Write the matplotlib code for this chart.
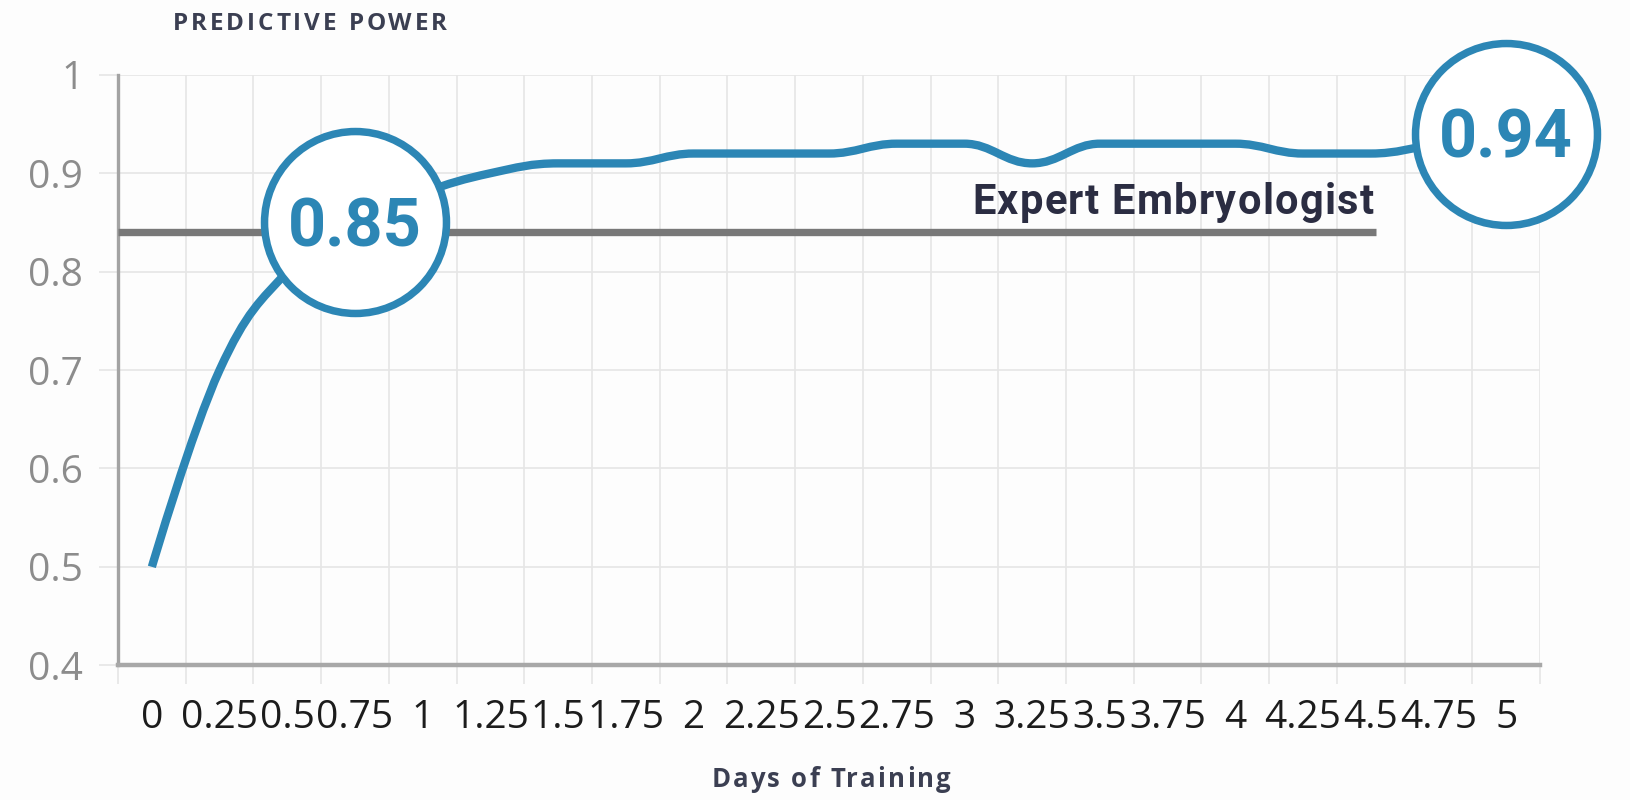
import numpy as np
import matplotlib
matplotlib.use("Agg")
import matplotlib.pyplot as plt
from matplotlib.path import Path
from matplotlib.patches import PathPatch

# ---- data -------------------------------------------------------------
days = [0, 0.25, 0.5, 0.75, 1, 1.25, 1.5, 1.75, 2, 2.25, 2.5,
        2.75, 3, 3.25, 3.5, 3.75, 4, 4.25, 4.5, 4.75, 5]
day_labels = ["0", "0.25", "0.5", "0.75", "1", "1.25", "1.5", "1.75", "2",
              "2.25", "2.5", "2.75", "3", "3.25", "3.5", "3.75", "4",
              "4.25", "4.5", "4.75", "5"]
predictive_power = [0.50, 0.70, 0.80, 0.85, 0.88, 0.90, 0.91, 0.91, 0.92,
                    0.92, 0.92, 0.93, 0.93, 0.91, 0.93, 0.93, 0.93, 0.92,
                    0.92, 0.93, 0.94]
expert_level = 0.84
expert_label = "Expert Embryologist"
callout_index = [3, 20]          # points highlighted with a ringed value
y_ticks = [0.4, 0.5, 0.6, 0.7, 0.8, 0.9, 1.0]
y_tick_labels = ["0.4", "0.5", "0.6", "0.7", "0.8", "0.9", "1"]
y_title = "PREDICTIVE POWER"
x_title = "Days of Training"

BLUE = "#2c86b5"
NAVY = "#2b2d42"
SLATE = "#3b3f52"
GRID = "#e6e6e6"
W_PX, H_PX = 1630, 800


def spline_path(xs, ys, smoothing=1.5):
    """Smooth Bezier path through every point (Highcharts-style spline)."""
    n = len(xs)
    denom = smoothing + 1
    left = [(xs[i], ys[i]) for i in range(n)]
    right = [(xs[i], ys[i]) for i in range(n)]
    for i in range(1, n - 1):
        px, py = xs[i], ys[i]
        lx, ly = xs[i - 1], ys[i - 1]
        nx, ny = xs[i + 1], ys[i + 1]
        lcx = (smoothing * px + lx) / denom
        lcy = (smoothing * py + ly) / denom
        rcx = (smoothing * px + nx) / denom
        rcy = (smoothing * py + ny) / denom
        corr = (rcy - lcy) * (rcx - px) / (rcx - lcx) + py - rcy
        lcy += corr
        rcy += corr
        if lcy > ly and lcy > py:
            lcy = max(ly, py)
            rcy = 2 * py - lcy
        elif lcy < ly and lcy < py:
            lcy = min(ly, py)
            rcy = 2 * py - lcy
        if rcy > ny and rcy > py:
            rcy = max(ny, py)
            lcy = 2 * py - rcy
        elif rcy < ny and rcy < py:
            rcy = min(ny, py)
            lcy = 2 * py - rcy
        left[i] = (lcx, lcy)
        right[i] = (rcx, rcy)
    verts = [(xs[0], ys[0])]
    codes = [Path.MOVETO]
    for i in range(1, n):
        verts += [right[i - 1], left[i], (xs[i], ys[i])]
        codes += [Path.CURVE4] * 3
    return Path(verts, codes)


def spaced_text(fig, x_px, y_px, s, span_px, ha="left", **kw):
    """Draw text letter-spaced so it spans span_px; x/y in pixels from top-left, y is baseline."""
    renderer = fig.canvas.get_renderer()

    def width(t):
        tmp = fig.text(0, 0, t, **kw)
        w = tmp.get_window_extent(renderer).width
        tmp.remove()
        return w

    spacing = max(0.0, (span_px - width(s)) / (len(s) - 1))
    total = width(s) + (len(s) - 1) * spacing
    if ha == "center":
        x0 = x_px - total / 2
    elif ha == "right":
        x0 = x_px - total
    else:
        x0 = x_px
    for i, ch in enumerate(s):
        if ch == " ":
            continue
        left = width(s[:i + 1]) - width(ch) + i * spacing
        fig.text((x0 + left) / W_PX, 1 - y_px / H_PX, ch, ha="left",
                 va="baseline", **kw)


fig = plt.figure(figsize=(W_PX / 100, H_PX / 100), dpi=100, facecolor="#fdfdfd")
ax = fig.add_axes([0.0724, 0.1684, 0.8724, 0.7381])
ax.set_facecolor("#fdfdfd")

step = days[1] - days[0]
ax.set_xlim(days[0] - step / 2, days[-1] + step / 2)
ax.set_ylim(y_ticks[0], y_ticks[-1])

# grid: vertical lines on category edges, horizontal on value ticks
ax.set_xticks(days)
ax.set_xticklabels(day_labels, fontsize=28, family="Open Sans", color="#1c1c1c")
ax.set_xticks(np.append(np.array(days) - step / 2, days[-1] + step / 2), minor=True)
ax.tick_params(axis="x", which="major", length=0, pad=24)
ax.tick_params(axis="x", which="minor", length=14, width=1.2, color=GRID)
ax.grid(axis="x", which="minor", color=GRID, lw=1.2)

ax.set_yticks(y_ticks)
ax.set_yticklabels(y_tick_labels, fontsize=28, family="Open Sans", color="#8c8c8c")
ax.tick_params(axis="y", which="major", length=14, width=1.2, color=GRID, pad=11)
ax.grid(axis="y", which="major", color=GRID, lw=1.2)
ax.set_axisbelow(True)

for side in ("top", "right"):
    ax.spines[side].set_visible(False)
ax.spines["left"].set_color("#a3a3a3")
ax.spines["left"].set_linewidth(2.4)
ax.spines["bottom"].set_color("#a8a8a8")
ax.spines["bottom"].set_linewidth(3.2)

# expert reference line
ax.plot([days[0] - step / 2, 4.52], [expert_level, expert_level],
        color="#787878", lw=5.3, solid_capstyle="butt", zorder=3)

# model curve
ax.add_patch(PathPatch(spline_path(days, predictive_power), fill=False,
                       edgecolor=BLUE, lw=6, capstyle="butt", zorder=4))

# ringed value call-outs
for i in callout_index:
    ax.plot(days[i], predictive_power[i], marker="o", ms=131, mew=5.4,
            mec=BLUE, mfc="white", clip_on=False, zorder=5)
    ax.annotate(f"{predictive_power[i]:.2f}", (days[i], predictive_power[i]),
                xytext=(0, -17), textcoords="offset points",
                ha="center", va="baseline", fontsize=48, fontweight="bold",
                family="Roboto", color=BLUE, zorder=6, annotation_clip=False)

# titles and the reference-line label, letter-spaced
spaced_text(fig, 173, 29.5, y_title, 274, ha="left", fontsize=17.5,
            fontweight="bold", family="Open Sans", color=SLATE)
spaced_text(fig, 831, 787, x_title, 239, ha="center", fontsize=18.5,
            fontweight="bold", family="Open Sans", color=SLATE)
spaced_text(fig, 1374, 214, expert_label, 402, ha="right", fontsize=30,
            fontweight="bold", family="Roboto", color=NAVY)

fig.savefig("out.png", dpi=100, facecolor=fig.get_facecolor())
